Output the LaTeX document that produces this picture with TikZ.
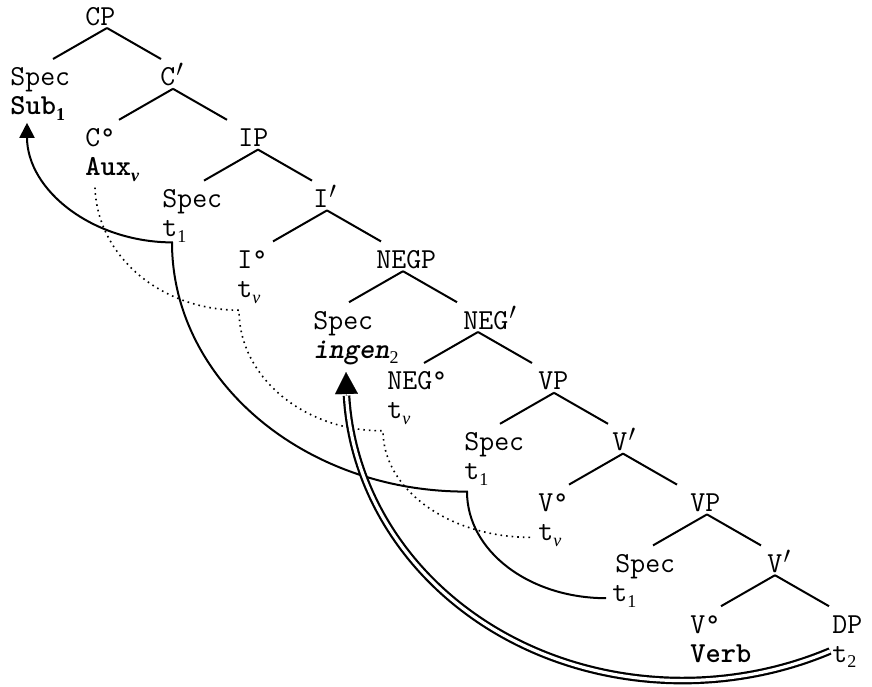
\documentclass[tikz,border=0pt]{standalone}
\usepackage{fontspec}
\newfontfamily\subserif{Liberation Serif}
\usetikzlibrary{arrows.meta,calc}

% small lowered index (trace / chain numbers)
\newcommand\idx[1]{\raisebox{-0.2em}{\fontsize{9}{9}\selectfont\subserif #1}}
% slanted bar-level prime
\newcommand\barmark{\kern0.04em\raisebox{-0.12em}{\fontsize{17}{17}\selectfont$'$}}

\begin{document}
\begin{tikzpicture}[x=0.5pt,y=-0.5pt,
  lbl/.style={anchor=base west, inner sep=0pt, font=\fontsize{14.5}{16}\selectfont\ttfamily},
  branch/.style={line width=1pt},
  chain/.style={line width=1pt},
  trace/.style={line width=0.8pt, dotted},
  dbl/.style={double, line width=1.1pt, double distance=1.6pt},
  tip/.style={-{Triangle[length=7.5pt,width=7.5pt]}},
  bigtip/.style={line width=0.1pt, -{Triangle[length=11pt,width=11.5pt]}}]
\useasboundingbox (0,0) rectangle (872,686);

% ---- right spine of the tree ----
\node[lbl] (CP)     at (85,25)    {CP};
\node[lbl] (Cbar)   at (160,85.8) {C\barmark};
\node[lbl] (IP)     at (238,146.6){IP};
\node[lbl] (Ibar)   at (313,207.4){I\barmark};
\node[lbl] (NEGP)   at (376,268.2){NEGP};
\node[lbl] (NEGbar) at (463,329)  {NEG\barmark};
\node[lbl] (VP)     at (538,389.8){VP};
\node[lbl] (Vbar)   at (612,450.6){V\barmark};
\node[lbl] (VPb)    at (690,511.4){VP};
\node[lbl] (Vbarb)  at (767,572.2){V\barmark};
\node[lbl] (DP)     at (832,633)  {DP};
\node[lbl] (ttwo)   at (832,662)  {t\idx{2}};

% ---- specifiers and heads ----
\node[lbl] (specC)  at (10,85.8)  {Spec};
\node[lbl] (sub)    at (10,114.8) {\textbf{Sub\idx{\bfseries 1}}};
\node[lbl] (Chead)  at (85,146.6) {C°};
\node[lbl] (aux)    at (85,175.6) {\textbf{Aux\idx{\bfseries\itshape v}}};
\node[lbl] (specI)  at (162,207.4){Spec};
\node[lbl] (tsubI)  at (162,236.4){t\idx{1}};
\node[lbl] (Ihead)  at (237,268.2){I°};
\node[lbl] (tvI)    at (237,297.2){t\idx{\itshape v}};
\node[lbl] (specN)  at (313,329)  {Spec};
\node[lbl] (ingen)  at (313,358)  {\textbf{\itshape ingen}\idx{2}};
\node[lbl] (Nhead)  at (387,389.8){NEG°};
\node[lbl] (tvN)    at (387,418.8){t\idx{\itshape v}};
\node[lbl] (specV)  at (464,450.6){Spec};
\node[lbl] (tsubV)  at (464,479.6){t\idx{1}};
\node[lbl] (Vhead)  at (538,511.4){V°};
\node[lbl] (tvV)    at (538,540.4){t\idx{\itshape v}};
\node[lbl] (specVb) at (615,572.2){Spec};
\node[lbl] (tsubVb) at (612,601.2){t\idx{1}};
\node[lbl] (Vheadb) at (690,633)  {V°};
\node[lbl] (verb)   at (690,662)  {\textbf{Verb}};

% ---- branches: each phrase splits into two daughters ----
\foreach \p/\dx in {CP/22, Cbar/13, IP/20, Ibar/14, NEGP/27, NEGbar/15, VP/16, Vbar/11, VPb/17, Vbarb/8} {
  \coordinate (\p-top) at ($(\p.base west)+(\dx,3)$);
  \draw[branch] (\p-top) -- ++(-54,31);
  \draw[branch] (\p-top) -- ++(54,31);
}

% ---- subject chain: lowest t1 up to Spec,CP ----
\coordinate (s0) at ($(tsubVb.base west)+(-6,-3)$);
\coordinate (s1) at ($(tsubV.base west)+(3,12)$);
\coordinate (s2) at ($(tsubI.base west)+(10,6)$);
\coordinate (s3) at ($(sub.base west)+(17,8)$);
\draw[chain,tip] (s0) .. controls (529,598) and (467,551) .. (s1)
   .. controls (304,492) and (172,380) .. (s2)
   .. controls (92,242) and (27,190) .. (s3);

% ---- verb chain (dotted): V° trace up to C° ----
\coordinate (d0) at ($(tvV.base west)+(-8,-3)$);
\coordinate (d1) at ($(tvN.base west)+(-4,12)$);
\coordinate (d2) at ($(tvI.base west)+(2,13)$);
\coordinate (d3) at ($(aux.base west)+(10,12)$);
\draw[trace] (d0) .. controls (449,537) and (383,489.5) .. (d1)
   .. controls (303.5,431) and (239,376.8) .. (d2)
   .. controls (159.5,310) and (97,255) .. (d3);

% ---- object movement: DP trace to Spec,NEGP ----
\coordinate (o0) at ($(ttwo.base west)+(-2,-11)$);
\coordinate (o1) at (346.5,395.7);
\draw[dbl] (o0) .. controls (729.7,693.4) and (610.2,690.6) .. (512.5,639.8)
   .. controls (414.8,589) and (352.4,497.2) .. (o1);
\draw[bigtip] (o1) -- ($(ingen.base west)+(33,14)$);
\end{tikzpicture}
\end{document}
